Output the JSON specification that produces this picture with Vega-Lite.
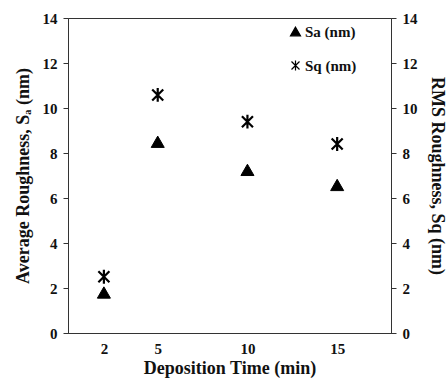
{
  "$schema": "https://vega.github.io/schema/vega-lite/v6.json",
  "width": 323,
  "height": 315,
  "autosize": "none",
  "padding": {"left": 68, "top": 18, "right": 56, "bottom": 45},
  "background": "white",
  "config": {
    "font": "Times New Roman, Liberation Serif, serif",
    "view": {"stroke": "#333", "strokeWidth": 1},
    "axis": {
      "grid": false,
      "domainColor": "#333",
      "tickColor": "#333",
      "labelFont": "Times New Roman, Liberation Serif, serif",
      "titleFont": "Times New Roman, Liberation Serif, serif"
    },
    "legend": {
      "labelFont": "Times New Roman, Liberation Serif, serif"
    }
  },
  "data": {
    "values": [
      {"time": 2, "series": "Sa (nm)", "value": 1.8},
      {"time": 5, "series": "Sa (nm)", "value": 8.5},
      {"time": 10, "series": "Sa (nm)", "value": 7.25},
      {"time": 15, "series": "Sa (nm)", "value": 6.58},
      {"time": 2, "series": "Sq (nm)", "value": 2.5},
      {"time": 5, "series": "Sq (nm)", "value": 10.58},
      {"time": 10, "series": "Sq (nm)", "value": 9.39},
      {"time": 15, "series": "Sq (nm)", "value": 8.4}
    ]
  },
  "encoding": {
    "x": {
      "field": "time",
      "type": "quantitative",
      "scale": {"domain": [0, 18], "nice": false},
      "axis": {
        "values": [2, 5, 10, 15],
        "ticks": false,
        "labelPadding": 8,
        "labelFontWeight": "bold",
        "labelFontSize": 15,
        "labelColor": "#111",
        "title": "Deposition Time (min)",
        "titleFontWeight": "bold",
        "titleFontSize": 18,
        "titleColor": "#111",
        "titlePadding": 3
      }
    },
    "shape": {
      "field": "series",
      "type": "nominal",
      "scale": {
        "domain": ["Sa (nm)", "Sq (nm)"],
        "range": ["triangle-up", "M-0.8,-0.8L0.8,0.8M-0.8,0.8L0.8,-0.8M0,-1L0,1"]
      },
      "legend": {
        "title": null,
        "orient": "none",
        "legendX": 220,
        "legendY": 6,
        "rowPadding": 18,
        "symbolSize": 100,
        "symbolStrokeWidth": 1.2,
        "labelOffset": 2,
        "labelFontWeight": "bold",
        "labelFontSize": 15,
        "labelColor": "#111"
      }
    },
    "fill": {
      "field": "series",
      "type": "nominal",
      "scale": {"domain": ["Sa (nm)", "Sq (nm)"], "range": ["black", "transparent"]},
      "legend": {
        "title": null,
        "orient": "none",
        "legendX": 220,
        "legendY": 6,
        "rowPadding": 18,
        "symbolSize": 100,
        "symbolStrokeWidth": 1.2,
        "labelOffset": 2,
        "labelFontWeight": "bold",
        "labelFontSize": 15,
        "labelColor": "#111"
      }
    },
    "stroke": {
      "field": "series",
      "type": "nominal",
      "scale": {"domain": ["Sa (nm)", "Sq (nm)"], "range": ["black", "black"]},
      "legend": {
        "title": null,
        "orient": "none",
        "legendX": 220,
        "legendY": 6,
        "rowPadding": 18,
        "symbolSize": 100,
        "symbolStrokeWidth": 1.2,
        "labelOffset": 2,
        "labelFontWeight": "bold",
        "labelFontSize": 15,
        "labelColor": "#111"
      }
    }
  },
  "layer": [
    {
      "transform": [{"filter": "datum.series === 'Sa (nm)'"}],
      "mark": {"type": "point", "size": 170, "strokeWidth": 1, "opacity": 1},
      "encoding": {
        "y": {
          "field": "value",
          "type": "quantitative",
          "scale": {"domain": [0, 14], "nice": false},
          "axis": {
            "orient": "left",
            "values": [0, 2, 4, 6, 8, 10, 12, 14],
            "tickSize": 5,
            "labelPadding": 6,
            "labelFontWeight": "bold",
            "labelFontSize": 15,
            "labelColor": "#111",
            "title": "Average  Roughness, Sₐ (nm)",
            "titleFontWeight": "bold",
            "titleFontSize": 18,
            "titleColor": "#111",
            "titlePadding": 10
          }
        }
      }
    },
    {
      "transform": [{"filter": "datum.series === 'Sq (nm)'"}],
      "mark": {"type": "point", "size": 190, "strokeWidth": 2.2, "opacity": 1},
      "encoding": {
        "y": {
          "field": "value",
          "type": "quantitative",
          "scale": {"domain": [0, 14], "nice": false},
          "axis": {
            "orient": "right",
            "values": [0, 2, 4, 6, 8, 10, 12, 14],
            "tickSize": 5,
            "labelPadding": 6,
            "labelFontWeight": "bold",
            "labelFontSize": 15,
            "labelColor": "#111",
            "title": "RMS  Roughness, Sq (nm)",
            "titleFontWeight": "bold",
            "titleFontSize": 18,
            "titleColor": "#111",
            "titleAngle": 90,
            "titlePadding": 10
          }
        }
      }
    }
  ],
  "resolve": {"scale": {"y": "independent"}}
}
